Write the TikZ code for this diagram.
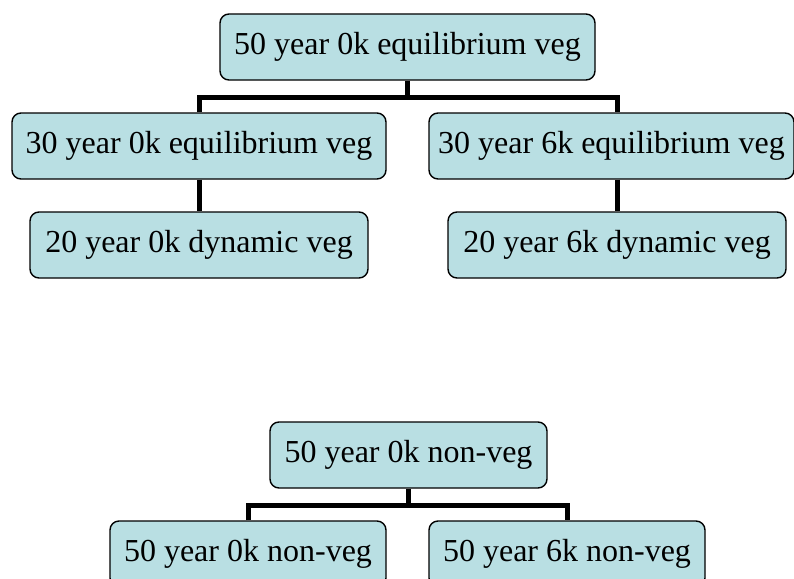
\documentclass[tikz,border=0pt]{standalone}
\usepackage{fontspec}
\setmainfont{Liberation Serif}
\usepackage{tikz}
\usetikzlibrary{positioning}
\definecolor{vegblue}{RGB}{185,223,227}

\begin{document}
\begin{tikzpicture}[
  x=1pt, y=-1pt,
  box/.style={draw, fill=vegblue, rounded corners=9pt, line width=1.4pt, inner sep=0pt, minimum height=66pt, font=\fontsize{32}{36}\selectfont},
  link/.style={line width=5pt}
]
\useasboundingbox[fill=white] (0,0) rectangle (794,578);
% vegetation runs
\node[box, minimum width=375pt] (eq50) at (407.5,47) {50 year 0k equilibrium veg};
\node[box, minimum width=374pt] (eq30a) at (199,146) {30 year 0k equilibrium veg};
\node[box, minimum width=365pt] (eq30b) at (611.5,146) {30 year 6k equilibrium veg};
\node[box, minimum width=338pt] (dyn20a) at (199,245) {20 year 0k dynamic veg};
\node[box, minimum width=338pt] (dyn20b) at (617,245) {20 year 6k dynamic veg};
\coordinate (fork) at (407.5,97);
\draw[link] (eq50.south) -- (fork);
\draw[link] (eq30a.north) |- (fork) -| (eq30b.north -| dyn20b.north);
\draw[link] (eq30a.south) -- (dyn20a.north);
\draw[link] (eq30b.south -| dyn20b.north) -- (dyn20b.north);
% non-veg runs
\node[box, minimum width=277pt] (nv50) at (408.5,455) {50 year 0k non-veg};
\node[box, minimum width=276pt] (nv50a) at (248,554) {50 year 0k non-veg};
\node[box, minimum width=276pt] (nv50b) at (567,554) {50 year 6k non-veg};
\coordinate (fork2) at (408.5,505);
\draw[link] (nv50.south) -- (fork2);
\draw[link] (nv50a.north) |- (fork2) -| (nv50b.north);
\end{tikzpicture}
\end{document}
